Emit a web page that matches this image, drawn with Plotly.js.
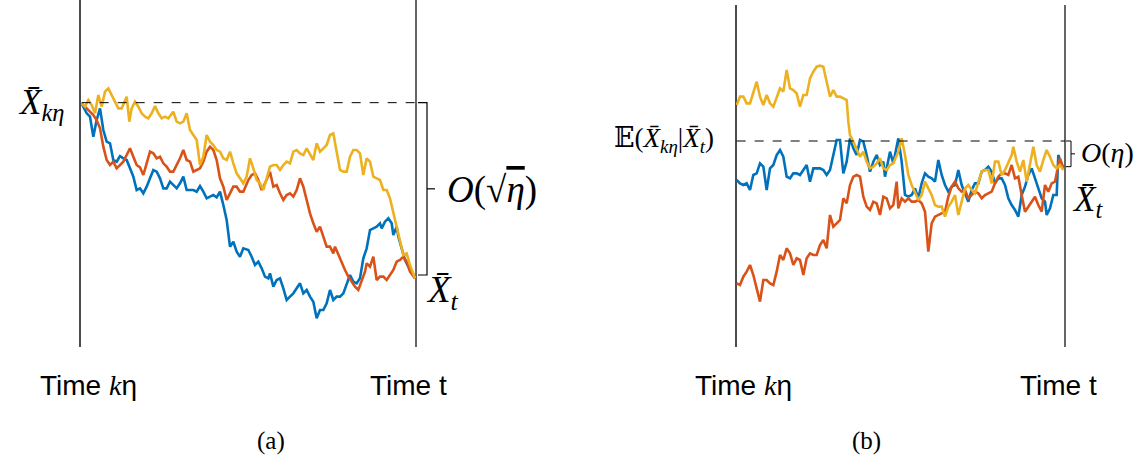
<!DOCTYPE html>
<html>
<head>
<meta charset="utf-8">
<script src="https://cdn.plot.ly/plotly-3.0.1.min.js"></script>
<style>html,body{margin:0;padding:0;background:#fff;}#chart{width:1145px;height:467px;}</style>
</head>
<body>
<div id="chart"></div>
<script>
// ---------- Panel (a): paths from time kη to time t (time in 1/3-px units, level arbitrary) ----------
const aBlueT = [5,20,30,40,50,60,70,80,90,100,110,120,130,140,150,160,170,180,190,200,210,220,230,240,250,260,270,280,290,300,310,320,330,340,350,360,370,380,390,400,410,420,430,440,450,460,470,480,490,500,505,515,525,535,545,555,565,570,580,590,600,610,620,630,640,650,660,670,680,690,700,710,720,730,740,750,760,770,780,790,800,810,820,830,840,850,860,870,880,890,900,905,915,925,935,940,950,955,965,975,985,995,1005];
const aBlueV = [680,650,640,580,630,665,600,565,560,510,505,522,515,510,485,460,420,425,410,430,455,480,475,455,425,425,445,435,425,440,460,420,420,420,415,432,415,395,400,405,398,415,375,330,250,265,235,220,245,240,240,220,195,205,185,160,155,170,130,150,155,125,90,100,110,125,140,110,120,100,85,35,60,60,80,120,90,100,100,110,140,165,145,140,155,215,245,300,305,310,320,305,325,335,320,285,310,280,245,210,190,170,155];

const aRedT = [5,20,40,50,60,70,80,90,100,110,120,130,140,150,160,170,180,190,200,210,220,230,240,250,260,270,280,290,300,310,320,330,340,350,360,370,380,390,400,410,420,430,440,450,460,470,480,490,500,505,515,525,535,545,555,565,570,580,590,600,610,620,630,640,650,660,670,680,690,700,710,720,730,740,750,760,765,775,785,795,805,815,825,835,845,855,860,870,880,890,900,910,920,930,940,950,960,970,980,990,1005];
const aRedV = [680,665,645,630,605,550,510,495,505,485,495,505,525,545,520,495,488,465,500,535,530,515,520,500,490,475,475,495,515,540,510,505,475,480,485,505,535,550,540,510,455,430,390,410,430,430,415,415,440,450,465,470,450,420,440,460,475,430,435,410,390,405,410,400,420,455,430,390,350,320,295,310,280,250,250,230,250,225,205,180,160,145,130,120,145,175,200,190,220,150,160,160,150,165,180,205,210,220,205,175,155];

const aYellowT = [5,15,25,35,45,55,65,75,85,95,105,115,125,140,148,155,165,175,185,195,205,215,225,235,245,255,265,280,290,300,310,320,330,340,350,360,370,380,390,400,410,420,430,440,450,460,470,480,490,500,510,520,530,540,550,560,570,580,590,600,610,620,630,640,650,660,670,680,690,700,710,720,730,740,750,760,770,780,790,800,810,820,830,840,850,860,870,880,890,900,910,920,930,940,950,960,970,980,990,1005];
const aYellowV = [680,670,690,675,650,705,670,715,725,705,685,665,665,700,625,665,685,670,650,640,635,650,672,650,635,640,635,655,625,620,625,650,600,585,570,495,520,585,565,555,540,535,515,510,535,500,470,455,440,460,515,485,450,440,420,455,490,495,495,480,495,505,500,535,540,530,525,545,525,510,560,535,545,555,585,590,535,480,475,475,520,540,540,530,465,515,505,460,455,450,420,420,395,350,305,270,225,230,195,155];

const aStartLevel = 682;   // dashed reference: X̄_kη
const aEndLevel = 155;     // X̄_t
const aRange = [0, 1008];
const aYRange = [-51, 990];

// ---------- Panel (b) ----------
const bBlueT = [2,12,22,32,42,52,62,72,82,92,102,112,122,132,142,152,162,172,182,192,202,212,222,232,242,252,262,272,282,292,302,312,322,332,342,352,362,372,382,392,402,412,422,432,442,447,457,462,472,487,497,507,517,527,537,547,557,567,577,587,597,607,617,627,637,647,657,667,677,687,697,707,717,727,737,747,757,767,777,787,797,807,817,827,837,847,857,867,877,887,897,907,917,927,932,942,952,962,967,972,982];
const bBlueV = [405,395,390,395,375,420,425,455,445,375,440,450,480,495,475,415,410,425,425,420,435,450,400,440,440,440,435,420,435,480,525,525,425,460,530,500,480,525,520,480,430,460,480,450,460,415,470,490,455,530,460,360,355,360,380,350,395,425,415,410,400,465,420,390,370,385,390,435,390,365,340,375,395,395,430,435,445,430,395,410,410,390,350,330,315,295,360,385,420,440,410,380,350,340,300,320,360,360,480,465,440];

const bRedT = [2,12,22,32,42,52,62,72,82,92,102,112,122,132,142,152,162,172,182,192,202,212,222,232,242,252,262,272,282,292,302,312,322,332,342,352,362,372,382,392,402,412,422,432,442,452,462,472,482,487,497,507,517,527,537,547,557,567,577,587,597,607,617,627,637,647,657,667,677,687,697,707,717,727,737,747,757,767,777,787,797,807,817,827,837,847,857,867,877,887,897,907,917,927,937,947,957,967,972,982];
const bRedV = [95,90,115,130,150,120,80,40,105,105,95,90,130,180,165,200,185,150,170,165,120,170,185,180,180,210,225,200,300,265,275,285,350,335,390,415,420,415,355,325,315,340,335,300,355,350,320,330,400,320,350,340,350,340,340,345,335,310,190,275,295,300,305,310,355,385,400,380,370,375,350,360,370,365,350,360,365,370,395,415,425,425,420,450,410,415,360,310,325,340,355,330,310,390,370,395,400,450,470,440];

const bYellowT = [2,12,22,32,42,52,62,72,82,92,102,112,122,132,142,152,162,172,182,192,202,212,222,232,242,252,262,272,282,292,302,312,322,332,337,342,352,362,372,382,392,402,412,422,432,442,452,462,472,487,497,507,517,527,537,547,557,567,577,587,597,607,617,627,637,647,657,667,677,687,697,707,717,727,737,747,757,767,777,787,797,807,817,827,832,842,852,862,872,882,892,902,912,922,932,942,952,962,972,982];
const bYellowV = [630,655,655,635,635,670,700,655,630,660,635,625,650,680,670,735,680,675,665,625,660,660,710,730,745,748,745,700,655,675,655,655,650,645,580,540,520,495,475,490,460,440,445,455,470,440,435,450,455,490,530,480,420,390,370,345,360,400,380,360,330,325,325,295,325,340,360,300,340,380,390,375,365,400,430,435,435,395,460,460,420,435,460,480,505,460,430,465,400,450,505,450,430,465,495,475,450,440,450,435];

const bCondLevel = 522;    // dashed reference: E(X̄_kη | X̄_t)
const bEndLevel = 440;     // X̄_t
const bRange = [0, 987];
const bYRange = [-96, 930];

const colors = {blue: '#0072BD', red: '#D95319', yellow: '#EDB120'};

// ---------- layout helpers (pixel -> paper) ----------
const W = 1145, H = 467;
const px = x => x / W;
const py = y => 1 - y / H;

function path(xs, ys, color, xa, ya) {
  return {x: xs, y: ys, type: 'scatter', mode: 'lines', xaxis: xa, yaxis: ya,
          line: {color: color, width: 2.6}, hoverinfo: 'skip', showlegend: false};
}

const traces = [
  path(aBlueT, aBlueV, colors.blue, 'x', 'y'),
  path(aRedT, aRedV, colors.red, 'x', 'y'),
  path(aYellowT, aYellowV, colors.yellow, 'x', 'y'),
  path(bBlueT, bBlueV, colors.blue, 'x2', 'y2'),
  path(bRedT, bRedV, colors.red, 'x2', 'y2'),
  path(bYellowT, bYellowV, colors.yellow, 'x2', 'y2'),
];

const serif = 'Liberation Serif, DejaVu Serif, serif';
const sans = 'Liberation Sans, Arial, sans-serif';

function ax(domain, range, anchor) {
  return {domain: domain, range: range, anchor: anchor, showgrid: false, zeroline: false, showticklabels: false,
          ticks: '', showline: false, fixedrange: true};
}

const aDom = [px(80), px(416)];
const bDom = [px(736), px(1065)];
const aYDom = [py(347), 1];
const bYDom = [py(347), py(5)];

function frame(xr, yr, xpos, color, width) {
  return {type: 'line', xref: xr + ' domain', yref: yr + ' domain', x0: xpos, x1: xpos, y0: 0, y1: 1,
          line: {color: color, width: width}, layer: 'below'};
}
function ann(text, x, y, size, family) {
  return {text: text, xref: 'paper', yref: 'paper', x: px(x), y: py(y), xanchor: 'center', yanchor: 'middle',
          showarrow: false, font: {family: family, size: size, color: '#000'}};
}

const kSpan = '<span style="font-family:Liberation Serif;font-style:italic">k</span>';

const layout = {
  width: W, height: H,
  margin: {l: 0, r: 0, t: 0, b: 0, pad: 0},
  paper_bgcolor: '#fff', plot_bgcolor: 'rgba(0,0,0,0)',
  showlegend: false,
  xaxis: ax(aDom, aRange, 'y'),
  yaxis: ax(aYDom, aYRange, 'x'),
  xaxis2: ax(bDom, bRange, 'y2'),
  yaxis2: ax(bYDom, bYRange, 'x2'),
  shapes: [
    frame('x', 'y', 0, '#111', 1.5),
    frame('x', 'y', 1, '#666', 2),
    frame('x2', 'y2', 0, '#111', 1.5),
    frame('x2', 'y2', 1, '#666', 2),
    // dashed reference lines
    {type: 'line', xref: 'x', yref: 'y', x0: aBlueT[0], x1: aRange[1], y0: aStartLevel, y1: aStartLevel,
     line: {color: '#000', width: 1, dash: 'dash'}},
    {type: 'line', xref: 'x2', yref: 'y2', x0: bBlueT[0], x1: bRange[1], y0: bCondLevel, y1: bCondLevel,
     line: {color: '#000', width: 1, dash: 'dash'}},
    // bracket (a)
    {type: 'path', xref: 'paper', yref: 'y',
     path: `M ${px(418)} ${aStartLevel} L ${px(427)} ${aStartLevel} L ${px(427)} ${aEndLevel + 10} L ${px(418)} ${aEndLevel + 10}`,
     line: {color: '#000', width: 1.2}},
    {type: 'line', xref: 'paper', yref: 'y', x0: px(427), x1: px(435),
     y0: (aStartLevel + aEndLevel + 10) / 2, y1: (aStartLevel + aEndLevel + 10) / 2, line: {color: '#000', width: 1.2}},
    // bracket (b)
    {type: 'path', xref: 'paper', yref: 'y2',
     path: `M ${px(1066)} ${bCondLevel} L ${px(1071)} ${bCondLevel} L ${px(1071)} ${bEndLevel + 5} L ${px(1066)} ${bEndLevel + 5}`,
     line: {color: '#000', width: 1}},
    {type: 'line', xref: 'paper', yref: 'y2', x0: px(1071), x1: px(1075),
     y0: (bCondLevel + bEndLevel + 5) / 2, y1: (bCondLevel + bEndLevel + 5) / 2, line: {color: '#000', width: 1}},
  ],
  annotations: [
    ann('<i>X̄</i><sub><i>kη</i></sub>', 41, 104, 35, serif),
    ann('<i>O</i>(√<span style="text-decoration:overline"><i>η</i></span>)', 492, 190, 37, serif),
    ann('<i>X̄</i><sub><i>t</i></sub>', 442, 292, 37, serif),
    ann('𝔼(<i>X̄</i><sub><i>kη</i></sub>|<i>X̄</i><sub><i>t</i></sub>)', 664, 140, 27, serif),
    ann('<i>O</i>(<i>η</i>)', 1107, 152, 28, serif),
    ann('<i>X̄</i><sub><i>t</i></sub>', 1087, 202, 35, serif),
    ann('Time ' + kSpan + 'η', 88, 385, 28, sans),
    ann('Time t', 408, 385, 28, sans),
    ann('Time ' + kSpan + 'η', 743, 385, 28, sans),
    ann('Time t', 1058, 385, 28, sans),
    ann('(a)', 271, 441, 25, serif),
    ann('(b)', 866, 441, 25, serif),
  ]
};

Plotly.newPlot('chart', traces, layout, {displayModeBar: false, staticPlot: true});
</script>
</body>
</html>
